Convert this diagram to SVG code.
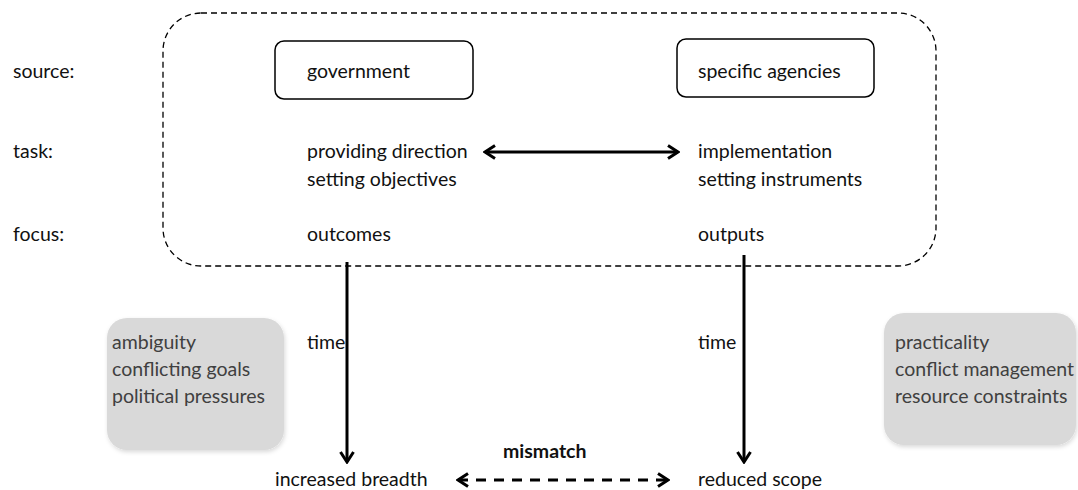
<svg xmlns="http://www.w3.org/2000/svg" width="1078" height="490" viewBox="0 0 1078 490">
<style>
text{font-family:Lato,"Liberation Sans",sans-serif;font-size:19.5px;fill:#111}
.g text{fill:#404040}
.box{fill:#fff;stroke:#000;stroke-width:1.5}
.gray{fill:#d9d9d9;stroke:none}
.conn{stroke:#000;stroke-width:3;fill:none}
.bold{font-weight:bold}
</style>
<defs>
<marker id="ah" markerUnits="userSpaceOnUse" viewBox="0 0 14 16" refX="12" refY="8" markerWidth="14" markerHeight="16" orient="auto-start-reverse">
<path d="M2,1.5 L12,8 L2,14.5" fill="none" stroke="#000" stroke-width="3" stroke-linejoin="miter"/>
</marker>
<filter id="sh" x="-10%" y="-10%" width="130%" height="130%">
<feDropShadow dx="1" dy="2" stdDeviation="2" flood-color="#000" flood-opacity="0.15"/>
</filter>
</defs>
<rect id="frame" x="163" y="13" width="773" height="253" rx="38" fill="none" stroke="#000" stroke-width="1.3" stroke-dasharray="6 4"/>
<g id="labels">
<text x="13" y="78">source:</text>
<text x="13" y="158">task:</text>
<text x="13" y="241">focus:</text>
</g>
<g id="government">
<rect class="box" x="275" y="41" width="198" height="58" rx="9"/>
<text x="307" y="78">government</text>
</g>
<g id="agencies">
<rect class="box" x="677" y="39" width="197" height="58" rx="9"/>
<text x="698" y="78">specific agencies</text>
</g>
<g id="gov-task">
<text x="307" y="158">providing direction</text>
<text x="307" y="186">setting objectives</text>
</g>
<g id="agency-task">
<text x="698" y="158">implementation</text>
<text x="698" y="186">setting instruments</text>
</g>
<g id="outcomes"><text x="307" y="241">outcomes</text></g>
<g id="outputs"><text x="698" y="241">outputs</text></g>
<g id="left-factors" class="g">
<rect class="gray" x="107" y="318" width="177" height="132" rx="20" filter="url(#sh)"/>
<text x="112" y="349">ambiguity</text>
<text x="112" y="376">conflicting goals</text>
<text x="112" y="403">political pressures</text>
</g>
<g id="right-factors" class="g">
<rect class="gray" x="884" y="313" width="192" height="132" rx="20" filter="url(#sh)"/>
<text x="895" y="349">practicality</text>
<text x="895" y="376">conflict management</text>
<text x="895" y="403">resource constraints</text>
</g>
<g id="time-labels">
<text x="307" y="349">time</text>
<text x="698" y="349">time</text>
</g>
<g id="breadth"><text x="275" y="486">increased breadth</text></g>
<g id="scope"><text x="698" y="486">reduced scope</text></g>
<g id="mismatch-label"><text class="bold" x="503" y="458">mismatch</text></g>
<g id="connectors">
<line class="conn" x1="485" y1="152" x2="678" y2="152" marker-start="url(#ah)" marker-end="url(#ah)"/>
<line class="conn" x1="347" y1="262" x2="347" y2="462" marker-end="url(#ah)"/>
<line class="conn" x1="744" y1="255" x2="744" y2="462" marker-end="url(#ah)"/>
<line class="conn" x1="458" y1="480" x2="668" y2="480" stroke-dasharray="10 8" marker-start="url(#ah)" marker-end="url(#ah)"/>
</g>
</svg>
